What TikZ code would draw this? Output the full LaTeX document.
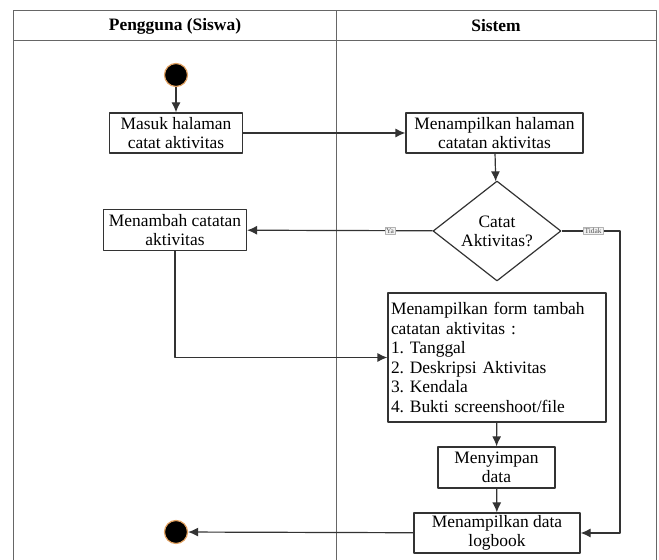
\documentclass[tikz,border=0pt]{standalone}
\usepackage{fontspec}
\setmainfont{Liberation Serif}
\usepackage{tikz}
\usetikzlibrary{arrows,arrows.meta,shapes.geometric}
\definecolor{lineclr}{HTML}{333333}
\definecolor{dotrim}{HTML}{E0A060}
\definecolor{lblfill}{HTML}{F2F2F2}
\frenchspacing

\tikzset{
  act/.style={draw=lineclr, fill=white, line width=1.2pt, align=center, inner sep=2bp,
    font=\fontsize{17.5}{18.5}\selectfont},
  dot/.style={circle, fill=black, draw=dotrim, line width=1.2pt, minimum width=21bp,
    minimum height=23bp, inner sep=0pt},
  guard/.style={draw=gray!60, fill=lblfill, line width=0.4pt, inner sep=1pt,
    font=\fontsize{7.5}{8}\selectfont, text=gray!70!black},
  lane/.style={draw=gray!80!black, line width=1pt}
}

\begin{document}
\begin{tikzpicture}[>={Latex[length=10bp,width=9bp]}, line join=bevel, line width=1.2pt]
\useasboundingbox (0,0) rectangle (659bp,560bp);
%% swimlanes
\draw [lane] (13bp,0bp) -- (13bp,549bp) -- (656bp,549bp) -- (656bp,0bp);
\draw [lane] (13bp,519bp) -- (656bp,519bp);
\draw [lane] (336bp,0bp) -- (336bp,549bp);
\node (hSiswa) at (175bp,534bp) [font=\bfseries\fontsize{17.5}{19}\selectfont] {Pengguna (Siswa)};
\node (hSistem) at (496bp,534bp) [font=\bfseries\fontsize{17.5}{19}\selectfont] {Sistem};
%%
\node (start) at (176bp,485bp) [dot] {};
  \node (masuk) at (176bp,427bp) [act, minimum width=133bp, minimum height=40bp] {Masuk halaman\\catat aktivitas};
  \node (tampil) at (494.5bp,427bp) [act, minimum width=177bp, minimum height=40bp] {Menampilkan halaman\\catatan aktivitas};
  \node (cek) at (497bp,329bp) [draw=lineclr, fill=white, diamond, aspect=1.28, minimum width=128bp,
    minimum height=100bp, inner sep=0pt, align=center, font=\fontsize{17.5}{19}\selectfont] {Catat\\Aktivitas?};
  \node (tambah) at (175bp,330bp) [act, minimum width=143bp, minimum height=41bp] {Menambah catatan\\aktivitas};
  \node (form) at (497bp,202.5bp) [act, align=left, text width=212bp, inner sep=3bp, minimum height=129bp,
    font=\fontsize{17.5}{19.6}\selectfont]
    {Menampilkan form tambah\\catatan aktivitas :\\1. Tanggal\\2. Deskripsi Aktivitas\\3. Kendala\\4. Bukti screenshoot/file};
  \node (simpan) at (496.5bp,92.5bp) [act, minimum width=117bp, minimum height=41bp] {Menyimpan\\data};
  \node (logbook) at (497bp,27bp) [act, minimum width=166bp, minimum height=40bp] {Menampilkan data\\logbook};
  \node (end) at (176bp,28bp) [dot] {};
  \coordinate (tidakTurn) at (620bp,329bp);
  \draw [->, draw=lineclr] (start) -- (masuk);
  \draw [->, draw=lineclr] (masuk) -- (tampil);
  \draw [->, draw=lineclr] (tampil) -- (cek);
  \draw [->, draw=lineclr] (cek) -- node [guard, pos=0.23] {Ya} (tambah);
  \draw [->, draw=lineclr] (cek.east) -- node [guard, pos=0.54] {Tidak} (tidakTurn) |- (logbook);
  \draw [->, draw=lineclr] (tambah) |- (form);
  \draw [->, draw=lineclr] (form) -- (simpan);
  \draw [->, draw=lineclr] (simpan) -- (logbook);
  \draw [->, draw=lineclr] (logbook) -- (end);
%
\end{tikzpicture}
\end{document}
